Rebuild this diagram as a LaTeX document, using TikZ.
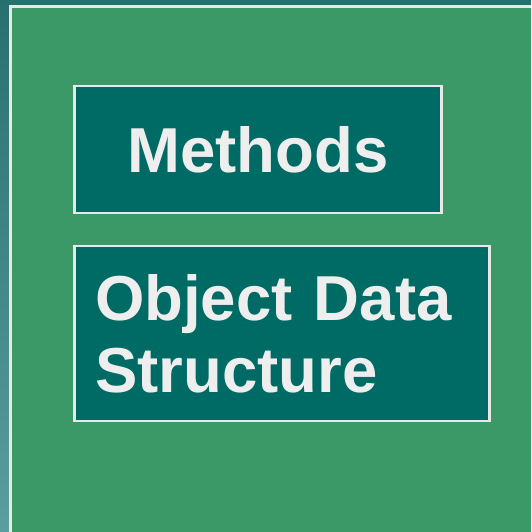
\documentclass[tikz,border=0pt]{standalone}
\usepackage{fontspec}
\setmainfont{Liberation Sans}
\definecolor{bgteal}{HTML}{28706E}
\definecolor{bgtealLight}{HTML}{5A9E9D}
\definecolor{panelgreen}{HTML}{3A9966}
\definecolor{boxteal}{HTML}{006A64}
\definecolor{rimgray}{HTML}{E8E8E8}
\definecolor{labelgray}{HTML}{EEEEEE}
\begin{document}
\begin{tikzpicture}[x=1pt,y=-1pt,
  box/.style={draw=rimgray, line width=2.5pt, fill=boxteal, text=labelgray,
    font=\bfseries\fontsize{63.5}{72}\selectfont, inner sep=0pt}]
\useasboundingbox (0,0) rectangle (531,532);
% slide background and left strip
\fill[bgteal] (0,0) rectangle (531,532);
\shade[top color=bgteal, bottom color=bgtealLight] (0,0) rectangle (10,532);
% green panel with its light rim
\fill[panelgreen] (10.5,6.5) rectangle (531,532);
\draw[rimgray, line width=2.5pt] (10.5,532) -- (10.5,6.5) -- (531,6.5);
% the two labelled boxes
\node[box, minimum width=367pt, minimum height=127pt] (methods) at (258,149.7) {Methods};
\node[box, align=left, text width=374pt, inner xsep=20.5pt, minimum height=175pt]
  (objdata) at (282.1,333.6) {Object Data\\Structure};
\end{tikzpicture}
\end{document}
